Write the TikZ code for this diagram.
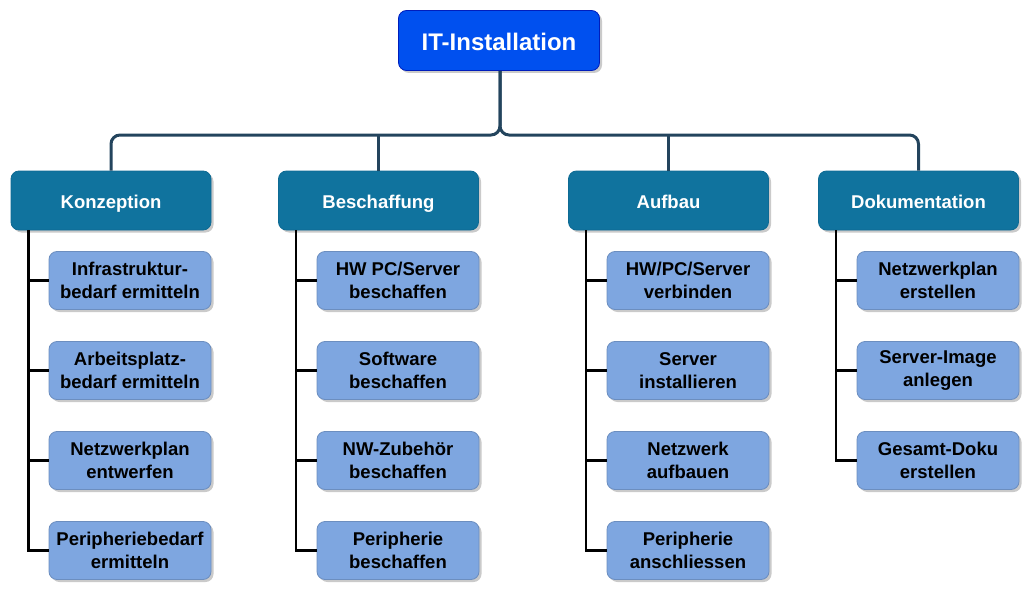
\documentclass[tikz,border=0pt]{standalone}
\usepackage{fontspec}
\setmainfont{Liberation Sans}
\usetikzlibrary{shadows}
\definecolor{topfill}{HTML}{0050EF}
\definecolor{topdraw}{HTML}{001DBC}
\definecolor{catfill}{HTML}{10739E}
\definecolor{catdraw}{HTML}{0E6A93}
\definecolor{leaffill}{HTML}{7EA6E0}
\definecolor{leafdraw}{HTML}{6C8EBF}
\definecolor{busline}{HTML}{23445D}
\tikzset{
  boxbase/.style={rounded corners=8pt, line width=0.8pt, inner sep=0pt,
    font=\bfseries\fontsize{18.5}{23}\selectfont, align=center,
    drop shadow={shadow xshift=2.5pt, shadow yshift=-2.5pt, opacity=0.35, fill=black!60}},
  topbox/.style={boxbase, fill=topfill, draw=topdraw, text=white,
    minimum width=201pt, minimum height=60pt, font=\bfseries\fontsize{24}{28}\selectfont,
    text height=20pt, text depth=0pt},
  catbox/.style={boxbase, fill=catfill, draw=catdraw, text=white,
    minimum width=200pt, minimum height=59pt, text height=15pt, text depth=0pt},
  leafbox/.style={boxbase, fill=leaffill, draw=leafdraw, text=black,
    minimum width=162pt, minimum height=58pt},
  conn/.style={draw=busline, line width=3pt, rounded corners=9pt},
  leafline/.style={draw=black, line width=2.5pt},
}
\begin{document}
\begin{tikzpicture}[x=1pt,y=-1pt]
\useasboundingbox (0,0) rectangle (1031,594);
\node[topbox] (top) at (499,40.5) {IT-Installation};

\node[catbox] (k) at (111,200.5) {Konzeption};
\node[catbox] (b) at (378.5,200.5) {Beschaffung};
\node[catbox] (a) at (668.5,200.5) {Aufbau};
\node[catbox] (d) at (918.5,200.5) {Dokumentation};

\coordinate (bus) at (500,135);
\draw[conn] (top.south -| bus) |- (k.north |- bus) -- (k.north);
\draw[conn] (top.south -| bus) |- (d.north |- bus) -- (d.north);
\draw[conn] (b.north |- bus) -- (b.north);
\draw[conn] (a.north |- bus) -- (a.north);

\node[leafbox] (k1) at (130,280.5) {Infrastruktur-\\bedarf ermitteln};
\node[leafbox] (k2) at (130,370.5) {Arbeitsplatz-\\bedarf ermitteln};
\node[leafbox] (k3) at (130,460.5) {Netzwerkplan\\entwerfen};
\node[leafbox] (k4) at (130,550.5) {Peripheriebedarf\\ermitteln};

\node[leafbox] (b1) at (398,280.5) {HW PC/Server\\beschaffen};
\node[leafbox] (b2) at (398,370.5) {Software\\beschaffen};
\node[leafbox] (b3) at (398,460.5) {NW-Zubehör\\beschaffen};
\node[leafbox] (b4) at (398,550.5) {Peripherie\\beschaffen};

\node[leafbox] (a1) at (688,280.5) {HW/PC/Server\\verbinden};
\node[leafbox] (a2) at (688,370.5) {Server\\installieren};
\node[leafbox] (a3) at (688,460.5) {Netzwerk\\aufbauen};
\node[leafbox] (a4) at (688,550.5) {Peripherie\\anschliessen};

\node[leafbox] (d1) at (938,280.5) {Netzwerkplan\\erstellen};
\node[leafbox] (d2) at (938,370.5) {Server-Image\\anlegen};
\node[leafbox] (d3) at (938,460.5) {Gesamt-Doku\\erstellen};

\foreach \c in {k,b,a,d}{
  \path (\c.south west) ++(18,0) coordinate (\c bus);
}
\foreach \c/\n in {k/4,b/4,a/4,d/3}{
  \foreach \i in {1,...,\n}{
    \draw[leafline] (\c bus) |- (\c\i.west);
  }
}
\end{tikzpicture}
\end{document}
